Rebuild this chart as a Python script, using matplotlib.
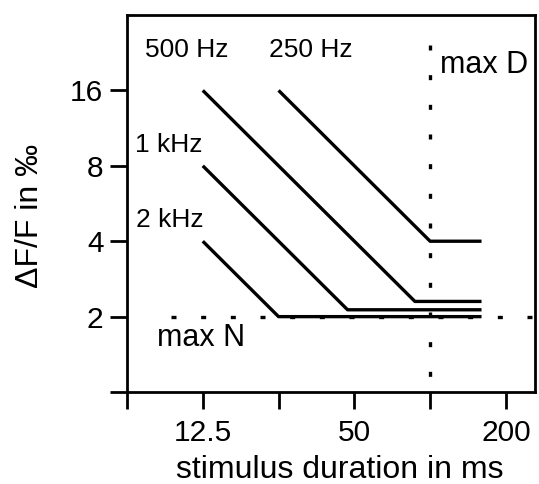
import matplotlib
matplotlib.use('Agg')
import matplotlib.pyplot as plt
from matplotlib.ticker import FixedLocator, NullLocator

plt.rcParams['font.family'] = ['Liberation Sans', 'DejaVu Sans']

# stimulus duration (ms) and dF/F (per mille) for each frequency curve
dur_250 = [25, 100, 160]
dff_250 = [16, 4, 4]
dur_500 = [12.5, 87, 160]
dff_500 = [16, 2.3, 2.3]
dur_1k = [12.5, 47, 160]
dff_1k = [8, 2.13, 2.13]
dur_2k = [12.5, 25, 160]
dff_2k = [4, 2, 2]

max_n = 2       # horizontal dotted reference
max_d = 100     # vertical dotted reference

x_ticks = [6.25, 12.5, 25, 50, 100, 200]
x_labels = ['', '12.5', '', '50', '', '200']
y_ticks = [1, 2, 4, 8, 16]
y_labels = ['', '2', '4', '8', '16']

fig = plt.figure(figsize=(5.39, 4.84), dpi=100)
ax = fig.add_axes([0.2356, 0.190, 0.757, 0.779])

lw = 2.4
for d, v in [(dur_250, dff_250), (dur_500, dff_500), (dur_1k, dff_1k), (dur_2k, dff_2k)]:
    ax.plot(d, v, color='black', lw=lw, solid_capstyle='butt')

dots = (0, (1.5, 7.4))
ax.plot([9.36, 261], [max_n, max_n], color='black', lw=2.4, linestyle=dots)
ax.plot([max_d, max_d], [24.2, 1.15], color='black', lw=2.4, linestyle=dots)

ax.set_xscale('log', base=2)
ax.set_yscale('log', base=2)
ax.set_xlim(6.25, 261)
ax.set_ylim(1, 32)

ax.xaxis.set_major_locator(FixedLocator(x_ticks))
ax.xaxis.set_minor_locator(NullLocator())
ax.set_xticklabels(x_labels)
ax.yaxis.set_major_locator(FixedLocator(y_ticks))
ax.yaxis.set_minor_locator(NullLocator())
ax.set_yticklabels(y_labels)

for s in ax.spines.values():
    s.set_linewidth(2)
ax.tick_params(direction='out', length=12, width=2, labelsize=21.5)
ax.tick_params(axis='x', pad=7.5)
ax.tick_params(axis='y', pad=5)

ax.set_xlabel('stimulus duration in ms', fontsize=23, labelpad=6)
ax.set_ylabel('\u0394F/F in \u2030', fontsize=23, labelpad=18)
ax.xaxis.label.set_x(0.521)
ax.yaxis.label.set_y(0.467)

ax.text(7.4, 23.1, '500 Hz', fontsize=19, va='center', ha='left')
ax.text(23.0, 23.1, '250 Hz', fontsize=19, va='center', ha='left')
ax.text(6.7, 9.65, '1 kHz', fontsize=19, va='center', ha='left')
ax.text(6.8, 4.86, '2 kHz', fontsize=19, va='center', ha='left')
ax.text(8.2, 1.65, 'max N', fontsize=22, va='center', ha='left')
ax.text(109, 20.2, 'max D', fontsize=22, va='center', ha='left')

fig.savefig('out.png', dpi=100)
